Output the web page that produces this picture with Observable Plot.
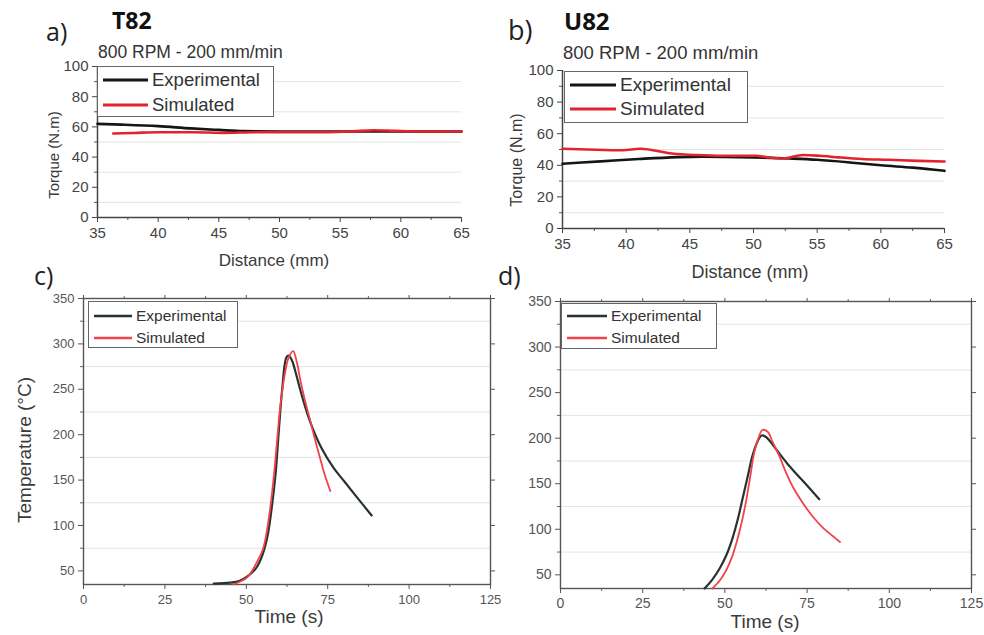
<!DOCTYPE html>
<html>
<head>
<meta charset="utf-8">
<script src="https://cdn.jsdelivr.net/npm/d3@7"></script>
<script src="https://cdn.jsdelivr.net/npm/@observablehq/plot@0.6"></script>
<style>
  body { margin: 0; background: #fff; }
  #root { position: relative; width: 984px; height: 635px; background: #fff; overflow: hidden; font-family: "Liberation Sans", Arial, sans-serif; }
  .abs { position: absolute; white-space: nowrap; }
  .plot { position: absolute; }
  .lg { position: absolute; border: 1.2px solid #666; background: #fff; box-sizing: border-box; }
  .lg .row { position: absolute; display: flex; align-items: center; color: #333; }
</style>
</head>
<body>
<div id="root"></div>
<script>
// ---------- data ----------
const seriesNames = ["Experimental", "Simulated"];
const panelLetters = ["a)", "b)", "c)", "d)"];
const materials = ["T82", "U82"];
const processLabel = "800 RPM - 200 mm/min";

// a) T82 torque (N.m) vs distance (mm)
const torqueT82Exp = [[35,62],[37,61.5],[40,60.5],[42.7,59],[45,58],[47,57.2],[50,57],[55,57],[60,57],[65,57]];
const torqueT82Sim = [[36.3,55.6],[38,56],[40,56.5],[43,56.5],[45.4,56],[48,56.5],[50,56.5],[53.6,56.5],[56,57],[57.8,57.8],[59.5,57.4],[62,57],[65,57]];
// b) U82 torque
const torqueU82Exp = [[35,41],[38,42.5],[41,44],[46,45.5],[50,45],[52.8,44.3],[55,43.5],[58,41.5],[60,40],[62.5,38.5],[65,36.5]];
const torqueU82Sim = [[35,50.5],[37,50],[39.7,49.5],[41.1,50.5],[43.6,47.5],[45.5,46.5],[47.6,46],[50.2,46],[51,45.2],[52.3,44.3],[53.9,46.5],[55.2,46],[56.7,45],[58.5,44],[60.6,43.5],[63,42.8],[65,42.4]];
// c) T82 temperature (°C) vs time (s)
const tempT82Exp = [[40,36],[45,37],[48,39],[50,43],[53,53],[55,68],[56.5,88],[58,125],[59,157],[60,205],[61,249],[62.3,285],[63,287],[64,282],[65.2,268],[66.6,249],[68.5,226],[70.6,205],[73,186],[76.7,164],[80,149],[84,131],[88.5,111]];
const tempT82Sim = [[46,35],[48,38],[50,42],[51.2,47],[53,58],[55.2,75],[57,110],[58.3,149],[59.5,195],[60.4,230],[62,270],[63,285],[64.4,292],[65.5,280],[66.6,260],[68,238],[69.6,216],[71,196],[72.6,175],[74,157],[75.8,138]];
// d) U82 temperature
const tempU82Exp = [[43.8,35],[46,44],[48.4,57],[50.5,72],[52.3,90],[54,112],[55.4,134],[57,159],[58.4,181],[60,197],[61.2,203],[62.6,201],[64.5,193],[66.6,183],[69,172],[71.7,161],[75,148],[78.7,133]];
const tempU82Sim = [[46.2,35],[48.5,44],[50.4,55],[52,68],[53.5,85],[55,106],[56.5,132],[57.8,160],[58.9,184],[60.2,200],[61.4,209],[63,207],[64.5,196],[66.6,180],[68.5,163],[70.6,147],[73.5,130],[76.7,114],[80,101],[83,92],[85,86]];

// ticks
const distTicks = [35,40,45,50,55,60,65];
const distMinor = [37.5,42.5,47.5,52.5,57.5,62.5];
const torqueTicks = [0,20,40,60,80,100];
const torqueMinor = [10,30,50,70,90];
const torqueGrid = [10,30,50,70,90];
const timeTicks = [0,25,50,75,100,125];
const timeMinor = [12.5,37.5,62.5,87.5,112.5];
const tempTicks = [50,100,150,200,250,300,350];
const tempMinor = [75,125,175,225,275,325];
const tempGrid = [75,125,175,225,275,325];

const axisTitles = { dist: "Distance (mm)", torque: "Torque (N.m)", time: "Time (s)", temp: "Temperature (°C)" };

// ---------- helpers ----------
const root = document.getElementById("root");
const FONT = "'Liberation Sans', Arial, sans-serif";
const INK = "#3a3a3a";

function addText(txt, left, top, css) {
  const d = document.createElement("div");
  d.className = "abs";
  d.textContent = txt;
  d.style.left = left + "px";
  d.style.top = top + "px";
  Object.assign(d.style, css || {});
  root.appendChild(d);
  return d;
}
function addRotated(txt, cx, cy, size) {
  return addText(txt, cx, cy, { fontSize: size + "px", color: INK, transform: "translate(-50%,-50%) rotate(-90deg)", transformOrigin: "center" });
}
function addLegend(left, top, w, h, fontSize, lineW, rowY, lineWidth, colors) {
  const box = document.createElement("div");
  box.className = "lg";
  Object.assign(box.style, { left: left + "px", top: top + "px", width: w + "px", height: h + "px" });
  seriesNames.forEach((name, i) => {
    const row = document.createElement("div");
    row.className = "row";
    row.style.left = "5px";
    row.style.top = rowY[i] + "px";
    row.style.transform = "translateY(-50%)";
    row.style.fontSize = fontSize + "px";
    const sw = document.createElementNS("http://www.w3.org/2000/svg", "svg");
    sw.setAttribute("width", lineW);
    sw.setAttribute("height", 6);
    sw.style.marginRight = "4px";
    const ln = document.createElementNS("http://www.w3.org/2000/svg", "line");
    ln.setAttribute("x1", 0); ln.setAttribute("x2", lineW); ln.setAttribute("y1", 3); ln.setAttribute("y2", 3);
    ln.setAttribute("stroke", colors[i]); ln.setAttribute("stroke-width", lineWidth);
    sw.appendChild(ln);
    row.appendChild(sw);
    const t = document.createElement("span");
    t.textContent = name;
    row.appendChild(t);
    box.appendChild(row);
  });
  root.appendChild(box);
}
function place(svg, left, top) {
  svg.classList.add("plot");
  svg.style.left = left + "px";
  svg.style.top = top + "px";
  root.appendChild(svg);
}

// ---------- torque panels ----------
function torquePanel(exp, sim, m, fs, colors) {
  return Plot.plot({
    width: m.w, height: m.h,
    marginLeft: m.l, marginRight: m.r, marginTop: m.t, marginBottom: m.b,
    x: { domain: [35, 65], label: null },
    y: { domain: [0, 100], label: null },
    style: { fontFamily: FONT, fontSize: fs + "px", background: "transparent", overflow: "visible" },
    marks: [
      Plot.ruleY(torqueGrid, { stroke: "#e4e4e4", strokeWidth: 1 }),
      Plot.axisY({ ticks: torqueTicks, tickSize: 5, tickPadding: 4, color: "#444", tickFormat: d => d }),
      Plot.axisY({ ticks: torqueMinor, tickSize: 3, text: null, color: "#555" }),
      Plot.axisX({ ticks: distTicks, tickSize: 5, tickPadding: 5, color: "#444", tickFormat: d => d }),
      Plot.axisX({ ticks: distMinor, tickSize: 3, text: null, color: "#555" }),
      Plot.ruleX([35], { stroke: "#444", strokeWidth: 1.5 }),
      Plot.ruleY([0], { stroke: "#444", strokeWidth: 1.5 }),
      Plot.line(exp, { x: d => d[0], y: d => d[1], stroke: colors[0], strokeWidth: 2.6, curve: "monotone-x" }),
      Plot.line(sim, { x: d => d[0], y: d => d[1], stroke: colors[1], strokeWidth: 2.6, curve: "monotone-x" })
    ]
  });
}

function tempPanel(exp, sim, m, fs, colors) {
  return Plot.plot({
    width: m.w, height: m.h,
    marginLeft: m.l, marginRight: m.r, marginTop: m.t, marginBottom: m.b,
    x: { domain: [0, 125], label: null },
    y: { domain: [35, 350], label: null },
    style: { fontFamily: FONT, fontSize: fs + "px", background: "transparent", overflow: "visible" },
    marks: [
      Plot.ruleY(tempGrid, { stroke: "#e4e4e4", strokeWidth: 1 }),
      Plot.axisY({ ticks: tempTicks, tickSize: 5, tickPadding: 4, color: "#555", tickFormat: d => d }),
      Plot.axisY({ ticks: tempMinor, tickSize: 3, text: null, color: "#666" }),
      Plot.axisY({ anchor: "right", ticks: tempTicks, tickSize: 4, text: null, color: "#555" }),
      Plot.axisX({ ticks: timeTicks, tickSize: 5, tickPadding: 5, color: "#555", tickFormat: d => d }),
      Plot.axisX({ ticks: timeMinor, tickSize: 3, text: null, color: "#666" }),
      Plot.axisX({ anchor: "top", ticks: timeTicks, tickSize: 4, text: null, color: "#555" }),
      Plot.axisX({ anchor: "top", ticks: timeMinor, tickSize: 3, text: null, color: "#666" }),
      Plot.frame({ stroke: "#555", strokeWidth: 1.4 }),
      Plot.line(exp, { x: d => d[0], y: d => d[1], stroke: colors[0], strokeWidth: 2.2, curve: "catmull-rom" }),
      Plot.line(sim, { x: d => d[0], y: d => d[1], stroke: colors[1], strokeWidth: 1.8, curve: "catmull-rom" })
    ]
  });
}

const torqueColors = ["#151515", "#e3222c"];
const tempColors = ["#27332f", "#f0434e"];

place(torquePanel(torqueT82Exp, torqueT82Sim, { w: 490, h: 280, l: 97, r: 29, t: 66, b: 63 }, 15, torqueColors), 0, 0);
place(torquePanel(torqueU82Exp, torqueU82Sim, { w: 494, h: 280, l: 72, r: 40, t: 70, b: 52 }, 15, torqueColors), 490, 0);
place(tempPanel(tempT82Exp, tempT82Sim, { w: 490, h: 355, l: 83, r: 0, t: 18, b: 51 }, 13, tempColors), 0, 280);
place(tempPanel(tempU82Exp, tempU82Sim, { w: 494, h: 355, l: 70, r: 13, t: 21, b: 47 }, 14, tempColors), 490, 280);

// ---------- texts ----------
addText(panelLetters[0], 46, 14, { fontSize: "25px", color: "#222", fontFamily: "'Open Sans', sans-serif" });
addText(materials[0], 112, 4, { fontSize: "23px", fontWeight: "bold", color: "#111", fontFamily: "'Open Sans', sans-serif" });
addText(processLabel, 98, 42, { fontSize: "17.5px", color: "#333" });
addText(panelLetters[1], 508, 11, { fontSize: "27px", color: "#222", fontFamily: "'Open Sans', sans-serif" });
addText(materials[1], 564, 4, { fontSize: "24px", fontWeight: "bold", color: "#111", fontFamily: "'Open Sans', sans-serif" });
addText(processLabel, 563, 42, { fontSize: "18.5px", color: "#333" });
addText(panelLetters[2], 34, 258, { fontSize: "25px", color: "#222", fontFamily: "'Open Sans', sans-serif" });
addText(panelLetters[3], 498, 258, { fontSize: "25px", color: "#222", fontFamily: "'Open Sans', sans-serif" });

addRotated(axisTitles.torque, 53, 155, 15);
addRotated(axisTitles.torque, 517, 160, 16);
addRotated(axisTitles.temp, 25, 450, 19);

addText(axisTitles.dist, 274, 261, { fontSize: "17px", color: INK, transform: "translate(-50%,-50%)" });
addText(axisTitles.dist, 750, 272, { fontSize: "18px", color: INK, transform: "translate(-50%,-50%)" });
addText(axisTitles.time, 289, 617, { fontSize: "19px", color: INK, transform: "translate(-50%,-50%)" });
addText(axisTitles.time, 765, 622, { fontSize: "19px", color: INK, transform: "translate(-50%,-50%)" });

// ---------- legends ----------
addLegend(97, 66, 177, 51, 18.5, 45, [13, 38], 3, torqueColors);
addLegend(564, 71, 184, 52, 19, 46, [13, 37], 3, torqueColors);
addLegend(88, 301, 150, 47, 15.5, 38, [14, 36], 2.5, tempColors);
addLegend(561, 303, 156, 46, 15.5, 40, [12, 34], 2.5, tempColors);
</script>
</body>
</html>
